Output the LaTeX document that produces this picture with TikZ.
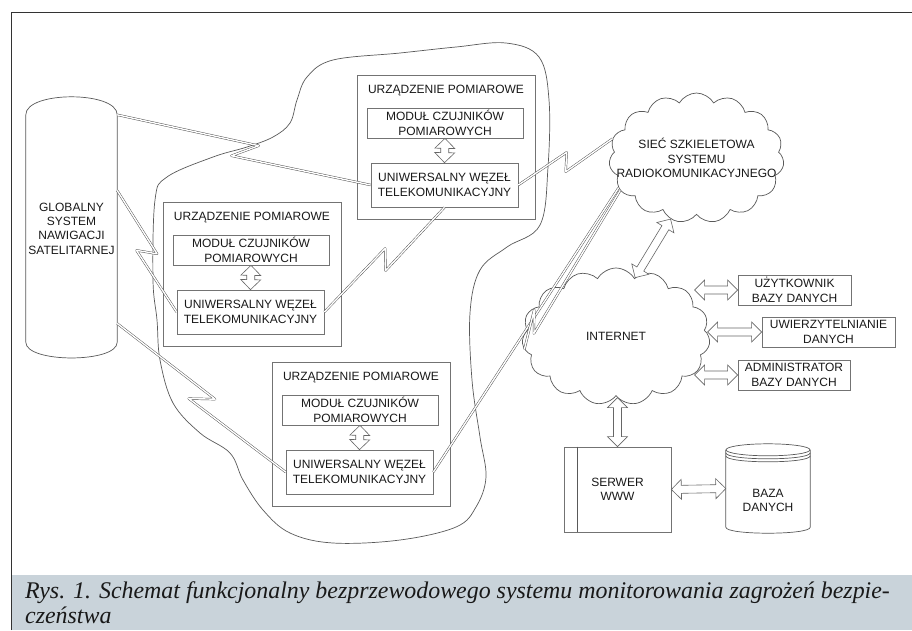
\documentclass[tikz,border=0pt]{standalone}
\usepackage{fontspec}
\setmainfont{Liberation Serif}
\setsansfont{Liberation Sans}
\usepackage{tikz}
\usetikzlibrary{calc,shapes.symbols}

\definecolor{capgray}{RGB}{201,211,218}

% hollow two-headed block arrow between two points
\newcommand{\duplexarrow}[2]{%
  \draw[barrow] (#1)
    -- ($(#1)!10pt!(#2)!10pt!90:(#2)$) -- ($(#1)!10pt!(#2)!4pt!90:(#2)$)
    -- ($(#2)!10pt!(#1)!4pt!-90:(#1)$) -- ($(#2)!10pt!(#1)!10pt!-90:(#1)$)
    -- (#2)
    -- ($(#2)!10pt!(#1)!10pt!90:(#1)$) -- ($(#2)!10pt!(#1)!4pt!90:(#1)$)
    -- ($(#1)!10pt!(#2)!4pt!-90:(#2)$) -- ($(#1)!10pt!(#2)!10pt!-90:(#2)$)
    -- cycle;}

% radio link with a lightning zigzag
\newcommand{\radiolink}[2]{%
  \draw[link] (#1) -- ($(#1)!0.55!(#2)!8pt!90:(#2)$)
    -- ($(#1)!0.46!(#2)!9pt!-90:(#2)$) -- (#2);}

\begin{document}
\begin{tikzpicture}[x=1pt, y=-1pt]
    \tikzstyle{txt} = [font=\sffamily\fontsize{12}{14.4}\selectfont, text=black!90, align=center, inner sep=1pt]
    \tikzstyle{box} = [txt, draw=black!55, line width=0.7pt, fill=white]
    \tikzstyle{devbox} = [draw=black!55, line width=0.7pt, fill=white, minimum width=178pt, minimum height=144pt]
    \tikzstyle{outline} = [draw=black!65, line width=0.7pt]
    \tikzstyle{link} = [draw=black!70, line width=0.45pt, double=white, double distance=1.4pt, line join=round]
    \tikzstyle{barrow} = [draw=black!60, line width=0.6pt, fill=white, line join=miter]
    \tikzstyle{cloudy} = [cloud, draw=black!65, line width=0.7pt, fill=white, cloud puffs=15, cloud puff arc=120, cloud ignores aspect, inner sep=0pt]

    \useasboundingbox (0,0) rectangle (912,630);

    % caption band and frame
    \fill[capgray] (11,575) rectangle (912,630);
    \draw[black!80, line width=0.8pt] (11,630) -- (11,12) -- (912,12);
    \node[anchor=north west, inner sep=0pt, align=left, text=black!90,
          font=\itshape\fontsize{23.9}{25}\selectfont] (cap) at (25,581)
        {Rys. 1. Schemat funkcjonalny bezprzewodowego systemu monitorowania zagrożeń bezpie-\\czeństwa};

    % area covered by the measuring devices
    \draw[outline] plot[smooth cycle, tension=0.6] coordinates {
        (456,47) (506,43) (539,57) (549,100) (548,167) (540,225) (507,247)
        (480,270) (470,313) (472,380) (480,437) (486,477) (476,507) (456,527)
        (400,540) (333,543) (290,533) (263,510) (243,480) (230,453) (200,433)
        (173,403) (160,360) (157,320) (153,280) (155,200) (167,177) (213,157)
        (247,147) (273,137) (290,123) (297,100) (307,77) (333,60) (400,53)};

    % satellite navigation column
    \node[txt, minimum width=91pt, minimum height=227pt] (gnss) at (71.5,228.5)
        {GLOBALNY\\SYSTEM\\NAWIGACJI\\SATELITARNEJ};
    \draw[outline] (gnss.north west) .. controls +(0,-24) and +(0,-24) .. (gnss.north east)
        -- (gnss.south east) .. controls +(0,21) and +(0,21) .. (gnss.south west) -- cycle;
    \coordinate (gps2) at ($(gnss.east)+(0,-38)$);
    \coordinate (gps3) at ($(gnss.east)+(0,95)$);

    % measuring devices
    \foreach \i/\x/\y in {1/357/75, 2/163/202, 3/272/362} {
        \node[devbox] (dev\i) at (\x+89,\y+72) {};
        \node[txt] (tit\i) at (\x+89,\y+16) {URZĄDZENIE POMIAROWE};
        \node[box, minimum width=156pt, minimum height=30pt] (mod\i) at (\x+88,\y+48)
            {MODUŁ CZUJNIKÓW\\POMIAROWYCH};
        \node[box, minimum width=147pt, minimum height=44pt] (uwt\i) at (\x+87.5,\y+110)
            {UNIWERSALNY WĘZEŁ\\TELEKOMUNIKACYJNY};
        \duplexarrow{mod\i.south}{uwt\i.north}
    }

    % clouds
    \node[cloudy, minimum width=175pt, minimum height=130pt] (siec) at (696.5,158) {};
    \node[txt] (siecT) at (siec.center) {SIEĆ SZKIELETOWA\\SYSTEMU\\RADIOKOMUNIKACYJNEGO};
    \node[cloudy, txt, minimum width=188pt, minimum height=137pt] (inet) at (616,336.5) {INTERNET};

    % database side
    \node[box, minimum width=113pt, minimum height=30pt] (uzyt) at (794.5,290) {UŻYTKOWNIK\\BAZY DANYCH};
    \node[box, minimum width=133pt, minimum height=30pt] (uwie) at (828.5,332) {UWIERZYTELNIANIE\\DANYCH};
    \node[box, minimum width=112pt, minimum height=30pt] (adm) at (794,375) {ADMINISTRATOR\\BAZY DANYCH};
    \node[box, minimum width=107pt, minimum height=85pt] (serw) at (617.5,489.5) {SERWER\\WWW};
    \draw[outline] ($(serw.north west)+(14,0)$) -- ($(serw.south west)+(14,0)$);
    \node[minimum width=84pt, minimum height=89pt, inner sep=0pt] (baza) at (768,488.5) {};
    \draw[outline] ($(baza.north)+(0,6)$) ellipse [x radius=42pt, y radius=6pt];
    \draw[outline] ($(baza.north west)+(0,9)$) .. controls +(0,8) and +(0,8) .. ($(baza.north east)+(0,9)$);
    \draw[outline] ($(baza.north west)+(0,12)$) .. controls +(0,8) and +(0,8) .. ($(baza.north east)+(0,12)$);
    \draw[outline] ($(baza.north west)+(0,6)$) -- ($(baza.south west)+(0,-6)$)
        .. controls +(0,8) and +(0,8) .. ($(baza.south east)+(0,-6)$) -- ($(baza.north east)+(0,6)$);
    \node[txt] (bazaT) at ($(baza.center)+(0,12)$) {BAZA\\DANYCH};

    % radio links
    \radiolink{gnss.north east}{uwt1.west}
    \radiolink{gps2}{uwt2.west}
    \radiolink{gps3}{uwt3.west}
    \radiolink{uwt2.east}{uwt1.south}
    \radiolink{uwt1.east}{siec.167}
    \draw[link] (uwt3.east) -- (siec.201);
    \draw[link] (siec.203) -- ($(siec.203)!0.9!(inet.188)$)
        -- ($(siec.203)!0.79!(inet.188)!12pt!-90:(inet.188)$) -- (inet.188);

    % block arrows
    \coordinate (pu) at ($(uzyt.west)+(-43,0)$);
    \coordinate (pw) at ($(uwie.west)+(-54,0)$);
    \coordinate (pa) at ($(adm.west)+(-43,0)$);
    \coordinate (ps) at ($(serw.north)+(0,-49)$);
    \duplexarrow{inet.72}{siec.247}
    \duplexarrow{pu}{uzyt.west}
    \duplexarrow{pw}{uwie.west}
    \duplexarrow{pa}{adm.west}
    \duplexarrow{ps}{serw.north}
    \duplexarrow{serw.east}{baza.west}
\end{tikzpicture}
\end{document}
